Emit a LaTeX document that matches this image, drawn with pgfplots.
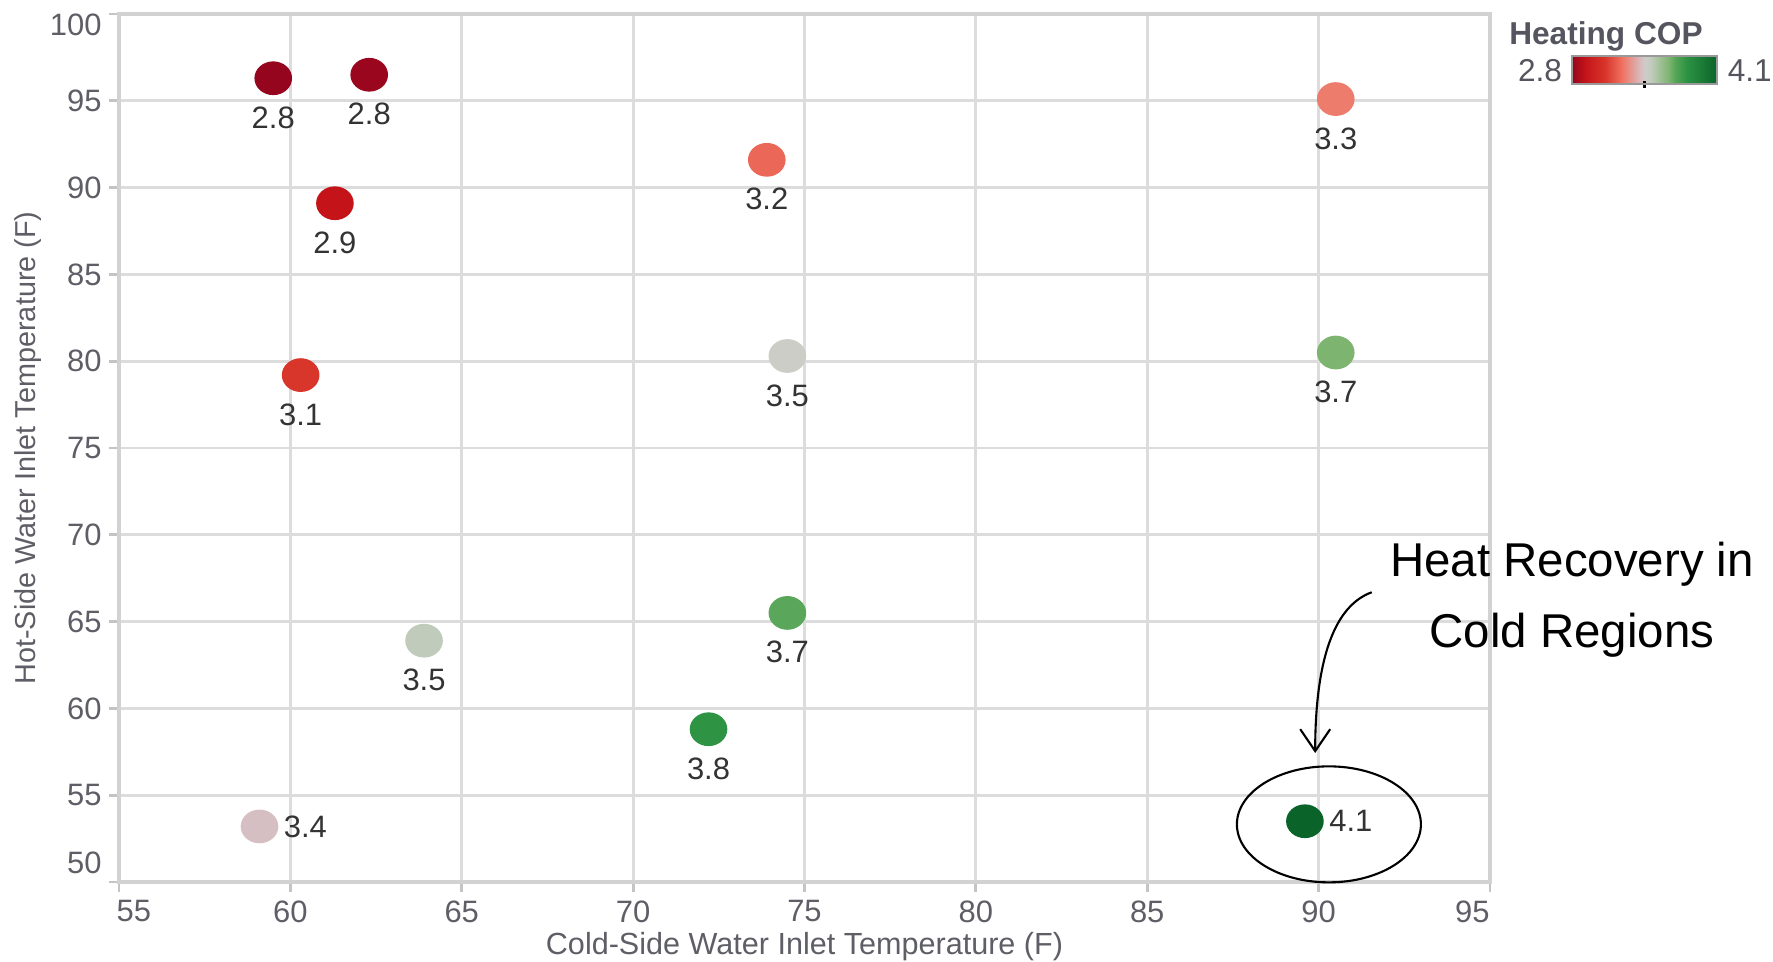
\documentclass[border=0pt]{standalone}
\usepackage{fontspec}
\setmainfont{Liberation Sans}
\usepackage{pgfplots}
\pgfplotsset{compat=1.18}
\usepackage{pgfplotstable}
\usetikzlibrary{arrows.meta}

\definecolor{gridc}{HTML}{DCDCDC}
\definecolor{axisc}{HTML}{D2D2D2}
\definecolor{tickc}{HTML}{C4C4C4}
\definecolor{labc}{HTML}{5E5E66}
\definecolor{datac}{HTML}{333333}
\definecolor{legc}{HTML}{555560}

\newcommand{\tickfont}{\fontsize{8.8}{10}\selectfont}
\newcommand{\xlabfont}{\fontsize{8.7}{10}\selectfont}
\newcommand{\ylabfont}{\fontsize{8.2}{10}\selectfont}
\newcommand{\legfont}{\fontsize{9}{10}\selectfont}
\newcommand{\annfont}{\fontsize{13.5}{16}\selectfont}

% x = cold-side inlet (F), y = hot-side inlet (F), c = heating COP
\pgfplotstableread{
x y c
59.5 96.3 2.80
62.3 96.5 2.81
61.3 89.1 2.92
60.3 79.2 3.10
73.9 91.6 3.22
90.5 95.1 3.27
74.5 80.3 3.46
90.5 80.5 3.67
63.9 63.9 3.51
74.5 65.5 3.72
72.2 58.8 3.82
}\belowdata
\pgfplotstableread{
x y c
59.1 53.2 3.42
89.6 53.5 4.10
}\rightdata

\begin{document}
\begin{tikzpicture}
\useasboundingbox (-1.19cm,-0.80cm) rectangle (16.54cm,8.82cm);
\begin{axis}[
  at={(0,0)}, anchor=south west,
  scale only axis, width=13.71cm, height=8.68cm,
  xmin=55, xmax=95, ymin=50, ymax=100,
  xtick={55,60,...,95}, ytick={50,55,...,100},
  xticklabels={\hspace*{8.5pt}55,60,65,70,75,80,85,90,95\hspace*{10pt}},
  yticklabels={\raisebox{5.4pt}[\height][\depth]{50},55,60,65,70,75,80,85,90,95,\raisebox{-3.2pt}[\height][\depth]{100}},
  grid=major,
  major grid style={draw=gridc, line width=0.8pt},
  axis line style={draw=axisc, line width=1.1pt},
  tick style={draw=tickc, line width=0.8pt},
  major tick length=0.1cm, tick align=outside, tick pos=left,
  ticklabel style={font=\tickfont, text=labc},
  yticklabel style={xshift=0.05cm},
  xticklabel style={yshift=0.04cm},
  xlabel={Cold-Side Water Inlet Temperature (F)},
  ylabel={Hot-Side Water Inlet Temperature (F)},
  xlabel style={at={(axis description cs:0.5,-0.0749)}, anchor=center, font=\xlabfont, text=labc},
  ylabel style={at={(axis description cs:-0.0664,0.5)}, anchor=center, font=\ylabfont, text=labc},
  colormap={cop}{
    rgb255(0pt)=(150,5,30)
    rgb255(12pt)=(196,20,26)
    rgb255(30pt)=(216,54,43)
    rgb255(45pt)=(240,115,98)
    rgb255(62pt)=(214,191,195)
    rgb255(66pt)=(205,205,200)
    rgb255(71pt)=(192,203,187)
    rgb255(87pt)=(125,180,111)
    rgb255(92pt)=(90,166,90)
    rgb255(102pt)=(46,148,68)
    rgb255(130pt)=(10,100,42)
  },
  point meta min=2.8, point meta max=4.1,
  colorbar horizontal,
  colorbar style={
    at={(parent axis.north east)},
    anchor=north west,
    xshift=0.82cm, yshift=-0.12cm,
    scale only axis, width=1.45cm, height=0.28cm,
    xtick={3.45}, xticklabels={}, ytick=\empty,
    major tick length=0.07cm, tick align=center,
    tick style={draw=black, line width=1pt},
    xtick pos=left,
    axis line style={draw=black!40, line width=0.5pt},
  },
  clip=false,
  /pgf/number format/assume math mode=true,
]
% coloured markers
\addplot[scatter, only marks, mark=*, mark size=4.6pt, scatter src=explicit,
  scatter/use mapped color={draw=mapped color, fill=mapped color},
  mark options={xscale=1.12},
] table[x=x,y=y,meta=c]{\belowdata};
\addplot[scatter, only marks, mark=*, mark size=4.6pt, scatter src=explicit,
  scatter/use mapped color={draw=mapped color, fill=mapped color},
  mark options={xscale=1.12},
] table[x=x,y=y,meta=c]{\rightdata};
% value labels
\addplot[draw=none, mark=none, point meta=explicit,
  nodes near coords={\pgfmathprintnumber[fixed,fixed zerofill,precision=1]{\pgfplotspointmeta}},
  nodes near coords align={below},
  every node near coord/.append style={yshift=-0.16cm, font=\tickfont, text=datac},
] table[x=x,y=y,meta=c]{\belowdata};
\addplot[draw=none, mark=none, point meta=explicit,
  nodes near coords={\pgfmathprintnumber[fixed,fixed zerofill,precision=1]{\pgfplotspointmeta}},
  nodes near coords align={right},
  every node near coord/.append style={xshift=0.12cm, font=\tickfont, text=datac},
] table[x=x,y=y,meta=c]{\rightdata};

% legend title and colour-scale end labels
\node[font=\legfont\bfseries, text=legc, anchor=base] at (rel axis cs:1.0846,0.9643) {Heating COP};
\node[font=\legfont, text=legc, anchor=base] at (rel axis cs:1.0365,0.9228) {2.8};
\node[font=\legfont, text=legc, anchor=base] at (rel axis cs:1.1895,0.9228) {4.1};

% annotation
\node[font=\annfont, anchor=base] at (rel axis cs:1.0598,0.3514) {Heat Recovery in};
\node[font=\annfont, anchor=base] at (rel axis cs:1.0598,0.2707) {Cold Regions};
\draw[line width=0.6pt] (axis cs:90.3,53.32) ellipse [x radius=0.92cm, y radius=0.58cm];
\draw[line width=0.6pt, -{Straight Barb[length=2.2mm, width=3mm]}]
  (axis cs:91.55,66.69) .. controls (axis cs:90.3,65.8) and (axis cs:89.9,62) .. (axis cs:89.9,57.43);
\end{axis}
\end{tikzpicture}
\end{document}
